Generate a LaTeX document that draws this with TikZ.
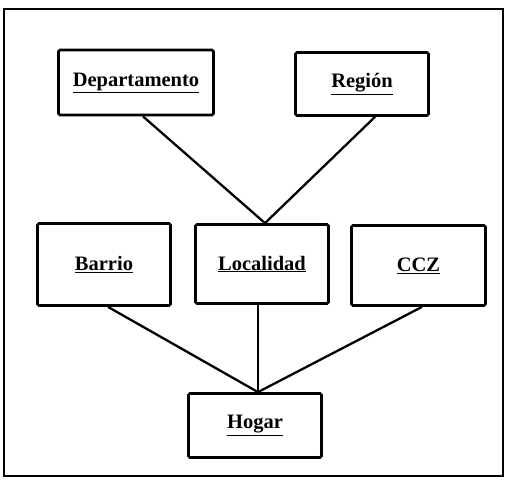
\documentclass[tikz,border=0pt]{standalone}
\usepackage{fontspec}
\setmainfont{Liberation Serif}
\newcommand{\entlabel}[1]{\raisebox{-2.5pt}{\underline{#1}}}
\begin{document}
\begin{tikzpicture}[x=1pt,y=-1pt,
  ent/.style={draw=black, line width=2.8pt, rounded corners=1.5pt, fill=white, inner sep=0pt,
    font=\fontsize{20.5}{23}\selectfont\bfseries},
  link/.style={draw=black, line width=2.3pt}]
\useasboundingbox (0,0) rectangle (511,484);
\draw[line width=2.6pt] (4,9) rectangle (503,476);
\node[ent, minimum width=155pt, minimum height=65pt] (dep) at (136,82.5) {\entlabel{Departamento}};
\node[ent, minimum width=133pt, minimum height=63pt] (reg) at (362,84) {\entlabel{Región}};
\node[ent, minimum width=133pt, minimum height=82pt] (bar) at (104,264.5) {\entlabel{Barrio}};
\node[ent, minimum width=133pt, minimum height=79pt] (loc) at (262,264) {\entlabel{Localidad}};
\node[ent, minimum width=134pt, minimum height=80pt] (ccz) at (418.5,265.5) {\entlabel{CCZ}};
\node[ent, minimum width=133pt, minimum height=64pt] (hog) at (255,425.5) {\entlabel{Hogar}};
\draw[link] ([xshift=7pt]dep.south) -- ([xshift=3pt]loc.north);
\draw[link] ([xshift=13pt]reg.south) -- ([xshift=3pt]loc.north);
\draw[link] ([xshift=4pt]bar.south) -- ([xshift=3pt]hog.north);
\draw[link] ([xshift=-4pt]loc.south) -- ([xshift=3pt]hog.north);
\draw[link] ([xshift=3.5pt]ccz.south) -- ([xshift=3pt]hog.north);
\end{tikzpicture}
\end{document}
